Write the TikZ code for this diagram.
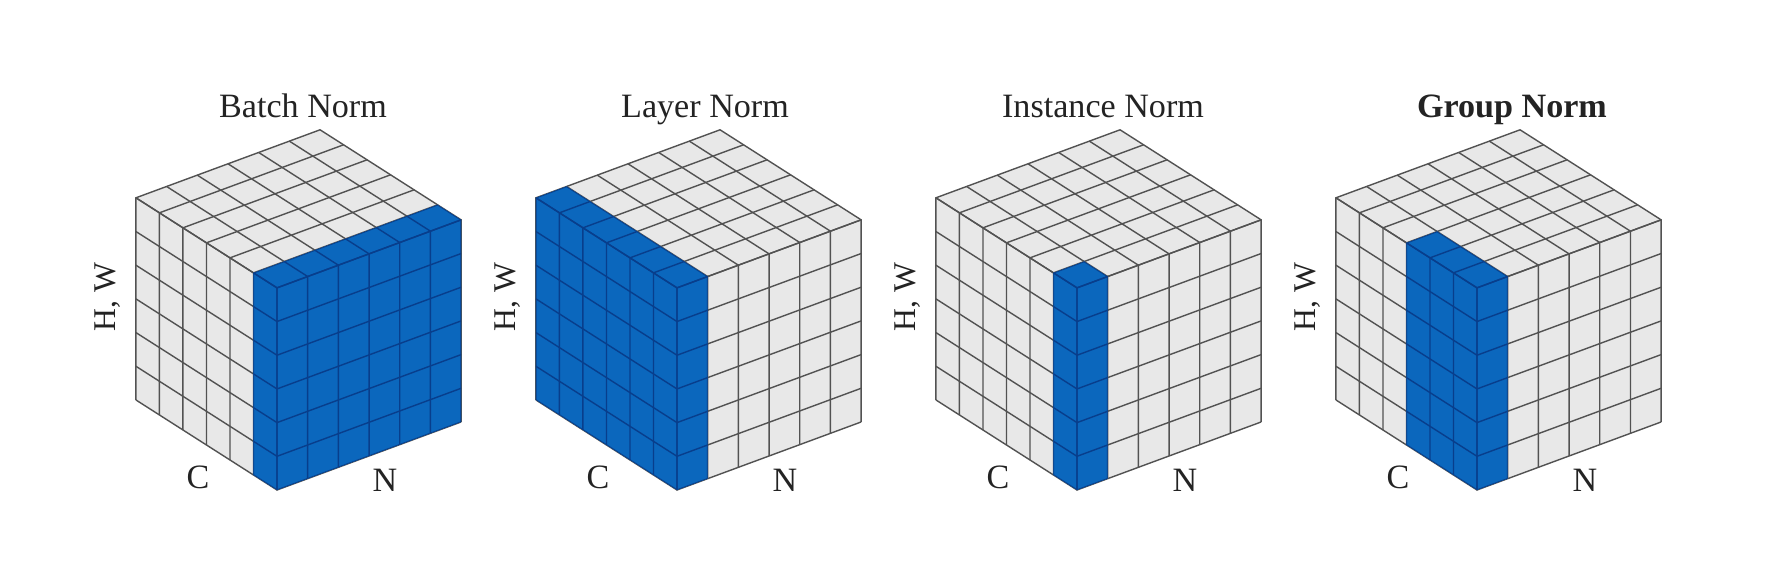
\documentclass[tikz,border=0pt]{standalone}
\usepackage{fontspec}
\setmainfont{Liberation Serif}
\definecolor{cubeGray}{RGB}{232,232,232}
\definecolor{gridGray}{RGB}{82,82,82}
\definecolor{normBlue}{RGB}{11,103,189}
\definecolor{gridBlue}{RGB}{8,62,140}
\definecolor{labelInk}{RGB}{35,35,35}
\usetikzlibrary{positioning}
% grid of all three faces, in cube units
\newcommand{\cubegrid}[1]{%
  \foreach \k in {0,...,6} {
    \draw[#1] (\k,0,0) -- (\k,0,6) -- (\k,6,6);
    \draw[#1] (0,\k,0) -- (0,\k,6) -- (6,\k,6);
    \draw[#1] (6,0,\k) -- (0,0,\k) -- (0,6,\k);
  }}
% #1 name, #2 x of front edge, #3 cells along C, #4 cells along N
\newcommand{\normcube}[4]{%
  \begin{scope}[shift={(#2,490)}, x={(-0.235cm,0.15cm)}, y={(0.3067cm,0.1133cm)}, z={(0cm,0.3367cm)}]
    \fill[cubeGray] (0,0,0) -- (6,0,0) -- (6,0,6) -- (6,6,6) -- (0,6,6) -- (0,6,0) -- cycle;
    \cubegrid{gridline}
    \fill[normBlue] (0,0,0) -- (#3,0,0) -- (#3,0,6) -- (#3,#4,6) -- (0,#4,6) -- (0,#4,0) -- cycle;
    \begin{scope}
      \clip (0,0,0) -- (#3,0,0) -- (#3,0,6) -- (#3,#4,6) -- (0,#4,6) -- (0,#4,0) -- cycle;
      \cubegrid{gridline, gridBlue}
    \end{scope}
  \end{scope}
  \node[axislab, rotate=90, font=\fontsize{9}{11}\selectfont] (#1hw) at (#2-169,297) {H, W};
  \node[axislab] (#1c) at (#2-79,477) {C};
  \node[axislab] (#1n) at (#2+108,480) {N};}

\begin{document}
\begin{tikzpicture}[
    x=0.01cm, y=-0.01cm,
    gridline/.style={gridGray, line width=0.4pt},
    axislab/.style={font=\fontsize{9.7}{11}\selectfont, text=labelInk, inner sep=0pt},
    titlelab/.style={font=\fontsize{9.7}{11}\selectfont, text=labelInk, inner sep=0pt, anchor=base}
  ]
    \useasboundingbox (0,0) rectangle (1778,582);
    % Four cubes, blue block counted from the front edge
    \normcube{batch}{277}{1}{6}
    \normcube{layer}{677}{6}{1}
    \normcube{inst}{1077}{1}{1}
    \normcube{group}{1477}{3}{1}
    % Titles
    \node[titlelab] (tbatch) at (303,118) {Batch Norm};
    \node[titlelab] (tlayer) at (705,118) {Layer Norm};
    \node[titlelab] (tinst) at (1103,118) {Instance Norm};
    \node[titlelab, font=\fontsize{9.7}{11}\selectfont\bfseries] (tgroup) at (1512,118) {Group Norm};
  \end{tikzpicture}
\end{document}
